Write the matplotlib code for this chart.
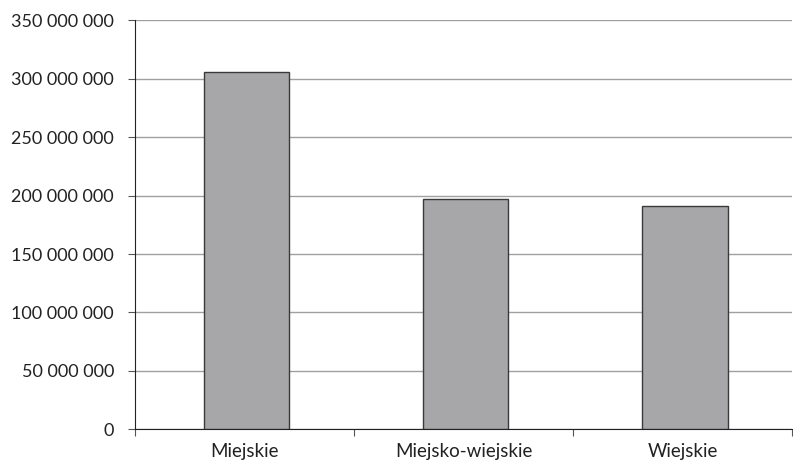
import matplotlib.pyplot as plt
from matplotlib.ticker import FuncFormatter

categories = ['Miejskie', 'Miejsko-wiejskie', 'Wiejskie']
values = [305800000, 196800000, 191300000]
y_ticks = [0, 50000000, 100000000, 150000000, 200000000, 250000000, 300000000, 350000000]

plt.rcParams['font.family'] = ['Lato', 'DejaVu Sans']

fig = plt.figure(figsize=(7.93, 4.62), dpi=100)
ax = fig.add_axes([0.170, 0.0708, 0.829, 0.8852])

x = range(len(categories))
ax.bar([i + 0.01 for i in x], values, width=0.39, color='#a7a7a9', edgecolor='#3a3a3a', linewidth=1, zorder=3)

ax.set_xlim(-0.5, len(categories) - 0.5)
ax.set_ylim(0, 350000000)
ax.set_yticks(y_ticks)
ax.yaxis.set_major_formatter(FuncFormatter(lambda v, p: f'{int(v):,}'.replace(',', ' ')))

# category labels centred, tick marks on the boundaries
ax.set_xticks([i - 0.5 for i in range(len(categories) + 1)])
ax.set_xticklabels([])
ax.set_xticks(list(x), minor=True)
ax.set_xticklabels(categories, minor=True, fontsize=13.5, color='#222222')
ax.tick_params(axis='x', which='minor', length=0, pad=10)
ax.tick_params(axis='x', which='major', length=5, width=0.8, color='#555555')
ax.tick_params(axis='y', length=5, width=0.8, color='#555555', labelsize=13, labelcolor='#222222', pad=10)

ax.grid(axis='y', color='#a0a0a0', linewidth=1, zorder=0)
for s in ['top', 'right']:
    ax.spines[s].set_visible(False)
ax.spines['left'].set_color('#222222')
ax.spines['bottom'].set_color('#222222')

fig.savefig('out.png', dpi=100)
